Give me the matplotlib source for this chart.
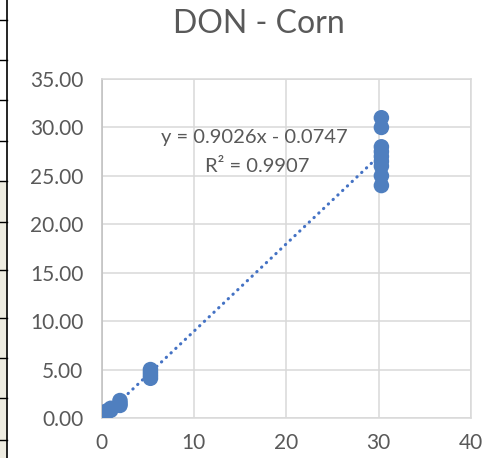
import numpy as np
import matplotlib
matplotlib.use("Agg")
from matplotlib import pyplot as plt
from matplotlib.lines import Line2D
from matplotlib.patches import Rectangle

# data
x_vals = [0.3, 0.5, 0.5, 1.0, 1.0,
          2.0, 2.0, 2.0,
          5.3, 5.3, 5.3, 5.3,
          30.3, 30.3, 30.3, 30.3, 30.3, 30.3, 30.3, 30.3, 30.3]
y_vals = [0.3, 0.5, 0.7, 0.8, 1.0,
          1.3, 1.5, 1.8,
          4.1, 4.4, 4.7, 5.0,
          31.0, 30.0, 28.0, 27.5, 27.0, 26.5, 26.0, 25.0, 24.0]
slope = 0.9026
intercept = -0.0747
r_squared = 0.9907
x_ticks = [0, 10, 20, 30, 40]
y_ticks = [0, 5, 10, 15, 20, 25, 30, 35]

blue = '#4F7FBF'
grey_text = '#595959'
grid_col = '#D9D9D9'

plt.rcParams['font.family'] = ['Lato', 'DejaVu Sans']

W, H = 488, 458
fig = plt.figure(figsize=(W / 100, H / 100), dpi=100)
ax = fig.add_axes([101.5 / W, 1 - 418 / H, (471 - 101.5) / W, (418 - 79) / H])

# spreadsheet strip on the left edge
fig.add_artist(Rectangle((0, 0), 6.5 / W, 1 - 181 / H, transform=fig.transFigure,
                         facecolor='#EEECE1', edgecolor='none'))
fig.add_artist(Line2D([6.5 / W, 6.5 / W], [0, 1], transform=fig.transFigure,
                      color='black', linewidth=1.2))
for yy in [20, 60, 100, 141, 181, 222, 270, 318, 358, 398, 440]:
    fig.add_artist(Line2D([0, 6.5 / W], [1 - yy / H, 1 - yy / H],
                          transform=fig.transFigure, color='black', linewidth=1.0))

# trend line
tx = np.array([min(x_vals), max(x_vals)])
ax.plot(tx, slope * tx + intercept, color='#4472C4', linewidth=2.25,
        linestyle=(0, (0.1, 2.0)), dash_capstyle='round', zorder=2)

ax.scatter(x_vals, y_vals, s=125, color=blue, edgecolors='none', zorder=3)

ax.set_xlim(0, 40)
ax.set_ylim(0, 35)
ax.set_xticks(x_ticks)
ax.set_yticks(y_ticks)
ax.set_yticklabels([f'{v:.2f}' for v in y_ticks])
ax.tick_params(length=0, labelsize=15, labelcolor=grey_text)
ax.tick_params(axis='x', pad=11)
ax.tick_params(axis='y', pad=13)
ax.grid(True, color=grid_col, linewidth=1.1)
ax.set_axisbelow(True)
for s in ax.spines.values():
    s.set_color(grid_col)
    s.set_linewidth(1.1)
ax.spines['left'].set_color('#BFBFBF')

fig.text(259 / W, 1 - 24 / H, 'DON - Corn', ha='center', va='center',
         fontsize=23, color=grey_text)
fig.text(254 / W, 1 - 137 / H, f'y = {slope}x - {abs(intercept)}',
         ha='center', va='center', fontsize=14.5, color=grey_text)
fig.text(257 / W, 1 - 166 / H, f'R² = {r_squared}',
         ha='center', va='center', fontsize=14.5, color=grey_text)

fig.savefig('out.png', dpi=100)
